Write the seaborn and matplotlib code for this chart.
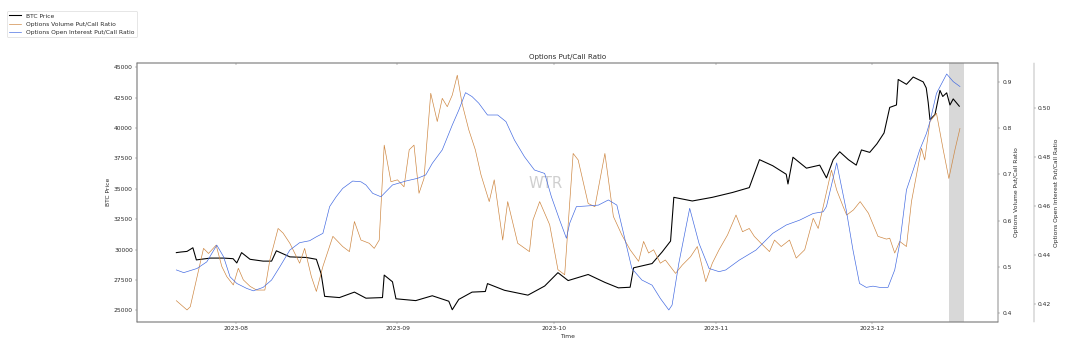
import matplotlib
matplotlib.use("Agg")
import matplotlib.pyplot as plt
import matplotlib.dates as mdates
from matplotlib.ticker import MultipleLocator
import pandas as pd
import seaborn as sns

# ---------------- data ----------------
btc_time = [
    "2023-07-20 15:00", "2023-07-21 12:00", "2023-07-22 16:00", "2023-07-23 19:00",
    "2023-07-24 11:00", "2023-07-27 03:00", "2023-07-29 16:00", "2023-07-31 12:00",
    "2023-08-01 05:00", "2023-08-02 03:00", "2023-08-03 18:00", "2023-08-06 06:00",
    "2023-08-07 21:00", "2023-08-08 19:00", "2023-08-11 09:00", "2023-08-14 13:00",
    "2023-08-16 11:00", "2023-08-17 09:00", "2023-08-18 01:00", "2023-08-20 21:00",
    "2023-08-23 18:00", "2023-08-25 23:00", "2023-08-29 03:00", "2023-08-29 11:00",
    "2023-08-31 01:00", "2023-08-31 17:00", "2023-09-04 12:00", "2023-09-07 16:00",
    "2023-09-10 20:00", "2023-09-11 12:00", "2023-09-12 18:00", "2023-09-15 07:00",
    "2023-09-17 20:00", "2023-09-18 06:00", "2023-09-21 12:00", "2023-09-26 00:00",
    "2023-09-29 05:00", "2023-10-01 18:00", "2023-10-03 17:00", "2023-10-07 13:00",
    "2023-10-10 18:00", "2023-10-13 08:00", "2023-10-15 14:00", "2023-10-16 06:00",
    "2023-10-19 19:00", "2023-10-21 17:00", "2023-10-23 08:00", "2023-10-23 23:00",
    "2023-10-27 12:00", "2023-10-31 08:00", "2023-11-04 05:00", "2023-11-07 10:00",
    "2023-11-09 09:00", "2023-11-11 22:00", "2023-11-14 12:00", "2023-11-14 20:00",
    "2023-11-15 19:00", "2023-11-18 09:00", "2023-11-20 22:00", "2023-11-22 05:00",
    "2023-11-23 12:00", "2023-11-24 18:00", "2023-11-26 10:00", "2023-11-27 22:00",
    "2023-11-28 22:00", "2023-11-30 12:00", "2023-12-01 21:00", "2023-12-03 06:00",
    "2023-12-04 08:00", "2023-12-05 15:00", "2023-12-05 23:00", "2023-12-07 13:00",
    "2023-12-08 20:00", "2023-12-10 18:00", "2023-12-11 08:00", "2023-12-11 17:00",
    "2023-12-12 01:00", "2023-12-13 00:00", "2023-12-13 23:00", "2023-12-14 12:00",
    "2023-12-15 06:00", "2023-12-15 21:00", "2023-12-16 12:00", "2023-12-17 16:00",
]
btc_price = [
    29750, 29800, 29850, 30150,
    29150, 29300, 29300, 29250,
    28900, 29750, 29200, 29050,
    29050, 29900, 29400, 29350,
    29200, 28000, 26150, 26050,
    26500, 26000, 26050, 27900,
    27350, 25950, 25800, 26200,
    25750, 25050, 25900, 26500,
    26550, 27200, 26650, 26250,
    27000, 28100, 27450, 27950,
    27300, 26850, 26900, 28500,
    28850, 29800, 30700, 34300,
    34000, 34300, 34700, 35100,
    37400, 36900, 36200, 35400,
    37600, 36700, 36950, 35900,
    37400, 38050, 37400, 36950,
    38200, 38000, 38700, 39600,
    41700, 41900, 44000, 43600,
    44200, 43800, 43300, 42100,
    40700, 41100, 43100, 42600,
    42900, 41900, 42400, 41800,
]

vol_time = [
    "2023-07-20 15:00", "2023-07-22 16:00", "2023-07-23 07:00", "2023-07-25 20:00",
    "2023-07-26 19:00", "2023-07-28 06:00", "2023-07-29 08:00", "2023-07-30 07:00",
    "2023-07-31 13:00", "2023-08-01 12:00", "2023-08-02 11:00", "2023-08-03 18:00",
    "2023-08-05 00:00", "2023-08-06 14:00", "2023-08-07 13:00", "2023-08-09 03:00",
    "2023-08-10 02:00", "2023-08-11 09:00", "2023-08-13 06:00", "2023-08-14 05:00",
    "2023-08-15 12:00", "2023-08-16 11:00", "2023-08-17 17:00", "2023-08-19 15:00",
    "2023-08-21 12:00", "2023-08-22 19:00", "2023-08-23 18:00", "2023-08-25 00:00",
    "2023-08-26 14:00", "2023-08-27 13:00", "2023-08-28 12:00", "2023-08-29 11:00",
    "2023-08-30 18:00", "2023-09-01 00:00", "2023-09-02 06:00", "2023-09-03 06:00",
    "2023-09-04 04:00", "2023-09-05 03:00", "2023-09-06 02:00", "2023-09-07 09:00",
    "2023-09-08 15:00", "2023-09-09 14:00", "2023-09-10 13:00", "2023-09-11 12:00",
    "2023-09-12 11:00", "2023-09-13 09:00", "2023-09-14 16:00", "2023-09-15 22:00",
    "2023-09-17 00:00", "2023-09-18 14:00", "2023-09-19 13:00", "2023-09-21 04:00",
    "2023-09-22 03:00", "2023-09-24 01:00", "2023-09-26 07:00", "2023-09-26 23:00",
    "2023-09-28 06:00", "2023-09-30 04:00", "2023-10-01 18:00", "2023-10-03 01:00",
    "2023-10-04 16:00", "2023-10-05 15:00", "2023-10-07 13:00", "2023-10-08 20:00",
    "2023-10-10 18:00", "2023-10-12 09:00", "2023-10-14 00:00", "2023-10-15 14:00",
    "2023-10-17 05:00", "2023-10-18 04:00", "2023-10-19 03:00", "2023-10-20 02:00",
    "2023-10-21 09:00", "2023-10-22 08:00", "2023-10-24 07:00", "2023-10-25 14:00",
    "2023-10-27 04:00", "2023-10-28 11:00", "2023-10-30 02:00", "2023-10-31 08:00",
    "2023-11-01 15:00", "2023-11-03 06:00", "2023-11-04 21:00", "2023-11-06 03:00",
    "2023-11-07 10:00", "2023-11-08 09:00", "2023-11-09 16:00", "2023-11-11 07:00",
    "2023-11-12 06:00", "2023-11-13 13:00", "2023-11-15 03:00", "2023-11-16 10:00",
    "2023-11-18 01:00", "2023-11-19 16:00", "2023-11-20 15:00", "2023-11-21 14:00",
    "2023-11-23 04:00", "2023-11-24 04:00", "2023-11-25 10:00", "2023-11-26 02:00",
    "2023-11-27 09:00", "2023-11-28 16:00", "2023-11-30 06:00", "2023-12-02 02:00",
    "2023-12-03 17:00", "2023-12-04 08:00", "2023-12-05 07:00", "2023-12-06 06:00",
    "2023-12-07 13:00", "2023-12-08 12:00", "2023-12-10 10:00", "2023-12-11 01:00",
    "2023-12-12 01:00", "2023-12-13 07:00", "2023-12-14 14:00", "2023-12-15 16:00",
    "2023-12-16 20:00", "2023-12-17 19:00",
]
vol_ratio = [
    0.427, 0.407, 0.414, 0.540,
    0.529, 0.547, 0.501, 0.479,
    0.461, 0.497, 0.472, 0.458,
    0.450, 0.450, 0.515, 0.583,
    0.573, 0.551, 0.508, 0.540,
    0.479, 0.447, 0.501, 0.566,
    0.544, 0.533, 0.598, 0.558,
    0.551, 0.540, 0.558, 0.763,
    0.684, 0.688, 0.673, 0.753,
    0.763, 0.659, 0.691, 0.875,
    0.814, 0.864, 0.846, 0.871,
    0.914, 0.853, 0.796, 0.753,
    0.699, 0.641, 0.688, 0.558,
    0.641, 0.551, 0.533, 0.601,
    0.641, 0.591, 0.494, 0.483,
    0.745, 0.731, 0.637, 0.630,
    0.745, 0.609, 0.569, 0.537,
    0.512, 0.555, 0.530, 0.537,
    0.508, 0.515, 0.486, 0.504,
    0.522, 0.544, 0.468, 0.508,
    0.537, 0.569, 0.612, 0.576,
    0.583, 0.566, 0.551, 0.533,
    0.558, 0.544, 0.558, 0.519,
    0.537, 0.605, 0.583, 0.630,
    0.709, 0.666, 0.630, 0.612,
    0.623, 0.641, 0.616, 0.566,
    0.560, 0.562, 0.530, 0.555,
    0.544, 0.641, 0.756, 0.731,
    0.814, 0.832, 0.753, 0.691,
    0.753, 0.799,
]

oi_time = [
    "2023-07-20 15:00", "2023-07-22 01:00", "2023-07-24 14:00", "2023-07-26 11:00",
    "2023-07-28 09:00", "2023-07-29 16:00", "2023-07-30 22:00", "2023-08-01 05:00",
    "2023-08-03 02:00", "2023-08-04 09:00", "2023-08-06 06:00", "2023-08-07 21:00",
    "2023-08-09 11:00", "2023-08-11 09:00", "2023-08-13 06:00", "2023-08-15 04:00",
    "2023-08-16 11:00", "2023-08-17 17:00", "2023-08-19 00:00", "2023-08-20 06:00",
    "2023-08-21 12:00", "2023-08-23 10:00", "2023-08-25 00:00", "2023-08-25 23:00",
    "2023-08-27 06:00", "2023-08-28 20:00", "2023-08-29 19:00", "2023-08-31 01:00",
    "2023-09-02 14:00", "2023-09-04 20:00", "2023-09-06 10:00", "2023-09-07 16:00",
    "2023-09-09 14:00", "2023-09-11 12:00", "2023-09-12 18:00", "2023-09-14 01:00",
    "2023-09-15 07:00", "2023-09-16 14:00", "2023-09-18 06:00", "2023-09-20 05:00",
    "2023-09-21 19:00", "2023-09-23 10:00", "2023-09-25 08:00", "2023-09-27 06:00",
    "2023-09-29 05:00", "2023-09-30 12:00", "2023-10-02 02:00", "2023-10-03 09:00",
    "2023-10-04 00:00", "2023-10-05 07:00", "2023-10-06 22:00", "2023-10-09 12:00",
    "2023-10-11 10:00", "2023-10-13 01:00", "2023-10-14 15:00", "2023-10-15 22:00",
    "2023-10-17 20:00", "2023-10-19 19:00", "2023-10-21 09:00", "2023-10-23 00:00",
    "2023-10-23 15:00", "2023-10-24 22:00", "2023-10-27 00:00", "2023-10-28 19:00",
    "2023-10-30 17:00", "2023-11-01 15:00", "2023-11-02 22:00", "2023-11-05 12:00",
    "2023-11-08 17:00", "2023-11-11 22:00", "2023-11-14 12:00", "2023-11-17 02:00",
    "2023-11-19 16:00", "2023-11-21 14:00", "2023-11-22 05:00", "2023-11-24 04:00",
    "2023-11-26 00:00", "2023-11-27 07:00", "2023-11-28 13:00", "2023-11-29 20:00",
    "2023-12-01 03:00", "2023-12-02 10:00", "2023-12-04 00:00", "2023-12-05 07:00",
    "2023-12-06 06:00", "2023-12-07 13:00", "2023-12-08 20:00", "2023-12-10 02:00",
    "2023-12-11 09:00", "2023-12-12 01:00", "2023-12-13 07:00", "2023-12-15 06:00",
    "2023-12-16 12:00", "2023-12-17 19:00",
]
oi_ratio = [
    0.4339, 0.4328, 0.4345, 0.4372,
    0.4440, 0.4393, 0.4311, 0.4284,
    0.4264, 0.4254, 0.4268, 0.4298,
    0.4352, 0.4420, 0.4450, 0.4458,
    0.4474, 0.4488, 0.4597, 0.4637,
    0.4671, 0.4701, 0.4698, 0.4685,
    0.4651, 0.4637, 0.4658, 0.4685,
    0.4701, 0.4712, 0.4726, 0.4773,
    0.4828, 0.4929, 0.4990, 0.5061,
    0.5045, 0.5018, 0.4970, 0.4970,
    0.4943, 0.4868, 0.4800, 0.4746,
    0.4732, 0.4637, 0.4542, 0.4468,
    0.4529, 0.4597, 0.4599, 0.4603,
    0.4624, 0.4603, 0.4461, 0.4345,
    0.4298, 0.4277, 0.4223, 0.4176,
    0.4196, 0.4366, 0.4590, 0.4447,
    0.4345, 0.4332, 0.4339, 0.4379,
    0.4420, 0.4488, 0.4522, 0.4542,
    0.4569, 0.4576, 0.4597, 0.4775,
    0.4583, 0.4420, 0.4284, 0.4268,
    0.4273, 0.4268, 0.4268, 0.4339,
    0.4447, 0.4665, 0.4746, 0.4828,
    0.4895, 0.4943, 0.5058, 0.5137,
    0.5106, 0.5086,
]

highlight = ["2023-12-15 16:00", "2023-12-18 12:00"]
x_range = ["2023-07-13 02:00", "2023-12-25 02:00"]
title = "Options Put/Call Ratio"
labels = ["BTC Price", "Options Volume Put/Call Ratio", "Options Open Interest Put/Call Ratio"]

# ---------------- figure ----------------
DPI = 43
W, H = 1075, 349
SPINE = "#7a7a7a"
TEXT = "#2a2a2a"
plt.rcParams.update({
    "axes.edgecolor": SPINE,
    "xtick.color": SPINE,
    "ytick.color": SPINE,
    "xtick.labelcolor": TEXT,
    "ytick.labelcolor": TEXT,
    "axes.labelcolor": TEXT,
    "text.color": TEXT,
})

fig = plt.figure(figsize=(W / DPI, H / DPI), dpi=DPI)
ax = fig.add_axes([137 / W, (H - 322) / H, (998 - 137) / W, (322 - 62.7) / H])
ax2 = ax.twinx()
ax3 = ax.twinx()
ax3.spines["right"].set_position(("outward", 60))

btc = pd.DataFrame({"Time": pd.to_datetime(btc_time), "BTC Price": btc_price})
vol = pd.DataFrame({"Time": pd.to_datetime(vol_time), "ratio": vol_ratio})
oi = pd.DataFrame({"Time": pd.to_datetime(oi_time), "ratio": oi_ratio})

ax.axvspan(pd.Timestamp(highlight[0]), pd.Timestamp(highlight[1]), color="gray", alpha=0.3, lw=0)
sns.lineplot(data=btc, x="Time", y="BTC Price", ax=ax, color="black", lw=1.8, legend=False)
sns.lineplot(data=vol, x="Time", y="ratio", ax=ax2, color="peru", lw=1.1, legend=False)
sns.lineplot(data=oi, x="Time", y="ratio", ax=ax3, color="royalblue", lw=1.1, legend=False)

ax.text(0.475, 0.535, "WTR", transform=ax.transAxes, fontsize=25, color="#cfcfcf",
        ha="center", va="center", zorder=0)

ax.set_xlim(pd.Timestamp(x_range[0]), pd.Timestamp(x_range[1]))
ax.set_ylim(24040, 45380)
ax2.set_ylim(0.381, 0.941)
ax3.set_ylim(0.4127, 0.5183)
ax.yaxis.set_major_locator(MultipleLocator(2500))
ax2.yaxis.set_major_locator(MultipleLocator(0.1))
ax3.yaxis.set_major_locator(MultipleLocator(0.02))
ax.xaxis.set_major_locator(mdates.MonthLocator())
ax.xaxis.set_major_formatter(mdates.DateFormatter("%Y-%m"))

ax3.xaxis.set_visible(True)
ax3.tick_params(axis="x", top=True, bottom=False, labeltop=False, labelbottom=False,
                direction="in", length=3)
ax2.set_xlabel("")
ax3.set_xlabel("")

ax.set_title(title)
ax.set_xlabel("Time")
ax.set_ylabel(labels[0])
ax2.set_ylabel(labels[1])
ax3.set_ylabel(labels[2])

handles = [ax.get_lines()[0], ax2.get_lines()[0], ax3.get_lines()[0]]
leg = fig.legend(handles, labels, loc="upper left", bbox_to_anchor=(7 / W, 1 - 11 / H),
                 borderaxespad=0)

fig.savefig("out.png", dpi=DPI)
